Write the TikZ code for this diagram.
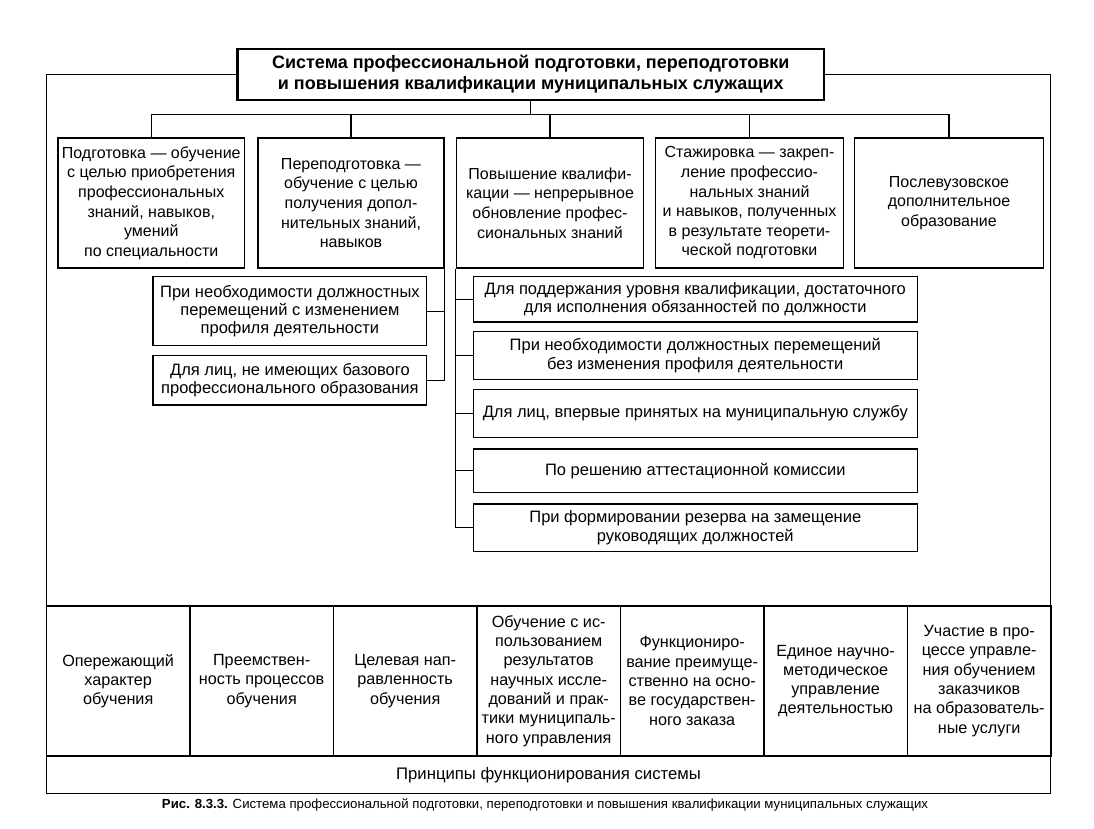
\documentclass[tikz,border=0pt]{standalone}
\usepackage{fontspec}
\setmainfont{Liberation Sans}
\begin{document}
\begin{tikzpicture}[x=1pt,y=-1pt,
  box/.style={draw, line width=1.2pt, fill=white, align=center, inner sep=1pt,
    font=\fontsize{16}{19.6}\selectfont},
  midbox/.style={box, font=\fontsize{16.5}{18.3}\selectfont},
  pbox/.style={box, minimum width=143.5, minimum height=150, font=\fontsize{16.2}{19.3}\selectfont},
  conn/.style={line width=1.2pt}]
\useasboundingbox (0,0) rectangle (1094,828);
\fill[white] (0,0) rectangle (1094,828);
% frame
\coordinate (fbl) at (46.4,793.6);
\coordinate (fbr) at (1050.7,793.6);
\node[draw, line width=2.2pt, fill=white, minimum width=586.5, minimum height=51, inner sep=0pt, align=center,
  font=\fontsize{18}{21.3}\selectfont\bfseries] (title) at (530.75,74.1)
  {Система профессиональной подготовки, переподготовки\\и повышения квалификации муниципальных служащих};
\draw[conn] (title.west) -| (fbl) -- (fbr) |- (title.east);
% top boxes
\node[box, minimum width=186.7, minimum height=130] (b1) at (151.25,203)
  {Подготовка — обучение\\с целью приобретения\\профессиональных\\знаний, навыков,\\умений\\по специальности};
\node[box, minimum width=186.1, minimum height=130] (b2) at (351,203)
  {Переподготовка —\\обучение с целью\\получения допол-\\нительных знаний,\\навыков};
\node[box, minimum width=187.2, minimum height=130] (b3) at (550,203)
  {Повышение квалифи-\\кации — непрерывное\\обновление профес-\\сиональных знаний};
\node[box, minimum width=188.2, minimum height=130] (b4) at (749.5,203)
  {Стажировка — закреп-\\ление профессио-\\нальных знаний\\и навыков, полученных\\в результате теорети-\\ческой подготовки};
\node[box, minimum width=189.3, minimum height=130] (b5) at (949,203)
  {Послевузовское\\дополнительное\\образование};
\coordinate (bus) at (530.75,114.6);
\draw[conn] (title.south) -- (bus);
\draw[conn] (b1.north) -- (b1.north |- bus) -- (b5.north |- bus) -- (b5.north);
\foreach \b in {b2,b3,b4} \draw[conn] (\b.north) -- (\b.north |- bus);
% left middle boxes
\node[midbox, minimum width=273.7, minimum height=69] (la) at (289.9,311.2)
  {При необходимости должностных\\перемещений с изменением\\профиля деятельности};
\node[midbox, minimum width=273.7, minimum height=49.3] (lb) at (289.9,380.4)
  {Для лиц, не имеющих базового\\профессионального образования};
\draw[conn] (b2.south east) -- (b2.south east |- lb.east) -- (lb.east);
\draw[conn] (la.east) -- (la.east -| b2.south east);
% right middle boxes
\node[midbox, minimum width=444, minimum height=45.3] (r1) at (695.3,299.3)
  {Для поддержания уровня квалификации, достаточного\\для исполнения обязанностей по должности};
\node[midbox, minimum width=444, minimum height=47.6] (r2) at (695.3,355.5)
  {При необходимости должностных перемещений\\без изменения профиля деятельности};
\node[midbox, minimum width=444, minimum height=48] (r3) at (695.3,413.3)
  {Для лиц, впервые принятых на муниципальную службу};
\node[midbox, minimum width=444, minimum height=43.3] (r4) at (695.3,470.7)
  {По решению аттестационной комиссии};
\node[midbox, minimum width=444, minimum height=47.7] (r5) at (695.3,527.8)
  {При формировании резерва на замещение\\руководящих должностей};
\draw[conn] (b3.south west) -- (b3.south west |- r5.west) -- (r5.west);
\foreach \r in {r1,r2,r3,r4} \draw[conn] (\r.west) -- (\r.west -| b3.south west);
% principles
\node[pbox] (p1) at (118.15,681) {Опережающий\\характер\\обучения};
\node[pbox] (p2) at (261.65,681) {Преемствен-\\ность процессов\\обучения};
\node[pbox] (p3) at (405.15,681) {Целевая нап-\\равленность\\обучения};
\node[pbox] (p4) at (548.65,681) {Обучение с ис-\\пользованием\\результатов\\научных иссле-\\дований и прак-\\тики муниципаль-\\ного управления};
\node[pbox] (p5) at (692.15,681) {Функциониро-\\вание преимуще-\\ственно на осно-\\ве государствен-\\ного заказа};
\node[pbox] (p6) at (835.65,681) {Единое научно-\\методическое\\управление\\деятельностью};
\node[pbox] (p7) at (979.15,681) {Участие в про-\\цессе управле-\\ния обучением\\заказчиков\\на образователь-\\ные услуги};
\node[font=\fontsize{16.7}{19}\selectfont] (plabel) at (548.5,775.3) {Принципы функционирования системы};
% caption
\node[font=\fontsize{13.2}{15}\selectfont] (cap) at (545,805)
  {\textbf{Рис. 8.3.3.} Система профессиональной подготовки, переподготовки и повышения квалификации муниципальных служащих};
\end{tikzpicture}
\end{document}
